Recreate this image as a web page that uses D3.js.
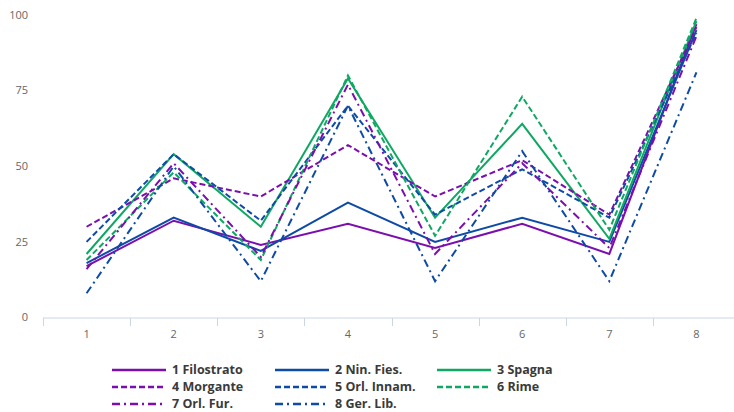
<!DOCTYPE html>
<html><head><meta charset="utf-8">
<script src="https://cdn.jsdelivr.net/npm/d3@7"></script>
<style>
body{margin:0;background:#fff;}
svg{display:block;font-family:"Open Sans","Noto Sans",sans-serif;}
</style></head>
<body><svg id="c" width="734" height="412"></svg>
<script>
const categories = ["1","2","3","4","5","6","7","8"];
const seriesNames = ["1 Filostrato","2 Nin. Fies.","3 Spagna","4 Morgante","5 Orl. Innam.","6 Rime","7 Orl. Fur.","8 Ger. Lib."];
const filostrato = [17, 32, 24, 31, 23, 31, 21, 97];
const ninFies    = [18, 33, 22, 38, 25, 33, 25, 95];
const spagna     = [21, 54, 30, 79, 33, 64, 26, 98];
const morgante   = [30, 46, 40, 57, 40, 52, 34, 96];
const orlInnam   = [25, 54, 32, 70, 34, 49, 33, 94];
const rime       = [19, 48, 19, 80, 27, 73, 29, 99];
const orlFur     = [16, 51, 20, 77, 21, 51, 23, 93];
const gerLib     = [8, 50, 12, 70, 12, 55, 12, 81];
const yTicks = [0, 25, 50, 75, 100];

const purple = "#7b0fae", blue = "#0d4ba6", green = "#0fa863";
const dashed = "6,3", dashdot = "8,4,2,4";
const series = [
  {name: seriesNames[0], values: filostrato, color: purple, dash: null},
  {name: seriesNames[1], values: ninFies, color: blue, dash: null},
  {name: seriesNames[2], values: spagna, color: green, dash: null},
  {name: seriesNames[3], values: morgante, color: purple, dash: dashed},
  {name: seriesNames[4], values: orlInnam, color: blue, dash: dashed},
  {name: seriesNames[5], values: rime, color: green, dash: dashed},
  {name: seriesNames[6], values: orlFur, color: purple, dash: dashdot},
  {name: seriesNames[7], values: gerLib, color: blue, dash: dashdot}
];

const svg = d3.select("#c");
const x = d3.scaleBand().domain(categories).range([43, 740]);
const y = d3.scaleLinear().domain([0, 100]).range([317.5, 15]);

// y labels (no axis line)
svg.append("g").selectAll("text").data(yTicks).join("text")
  .attr("x", 28).attr("y", d => y(d)).attr("dy", "0.35em")
  .attr("text-anchor", "end").attr("font-size", 11).attr("fill", "#666")
  .text(d => d);

// x axis
const xg = svg.append("g").attr("transform", "translate(0,318)");
xg.append("line").attr("x1", 43).attr("x2", 740).attr("y1", 0).attr("y2", 0)
  .attr("stroke", "#c9d6e6").attr("stroke-width", 1);
const bounds = categories.map(c => x(c)).concat([x(categories[categories.length-1]) + x.bandwidth()]);
xg.selectAll("line.t").data(bounds).join("line").attr("class","t")
  .attr("x1", d => Math.round(d)+0.5).attr("x2", d => Math.round(d)+0.5)
  .attr("y1", 0).attr("y2", 8).attr("stroke", "#c9d6e6");
xg.selectAll("text").data(categories).join("text")
  .attr("x", d => x(d) + x.bandwidth()/2).attr("y", 16).attr("dy", "0.35em")
  .attr("text-anchor", "middle").attr("font-size", 11).attr("fill", "#666")
  .text(d => d);

const line = d3.line().x((d, i) => x(categories[i]) + x.bandwidth()/2).y(d => y(d));
svg.append("g").selectAll("path").data(series).join("path")
  .attr("d", d => line(d.values))
  .attr("fill", "none").attr("stroke", d => d.color).attr("stroke-width", 2)
  .attr("stroke-dasharray", d => d.dash)
  .attr("stroke-linejoin", "miter");

// legend
const colX = [112, 275, 437];
const rowY = [370, 387, 404];
const lg = svg.append("g").selectAll("g").data(series).join("g")
  .attr("transform", (d, i) => `translate(${colX[i % 3]},${rowY[Math.floor(i / 3)]})`);
lg.append("line").attr("x1", 0).attr("x2", 54).attr("y1", 0).attr("y2", 0)
  .attr("stroke", d => d.color).attr("stroke-width", 2.5).attr("stroke-dasharray", d => d.dash);
lg.append("text").attr("x", 60).attr("y", 0).attr("dy", "0.35em")
  .attr("font-size", 12.5).attr("font-weight", "bold").attr("fill", "#3a3a3a")
  .text(d => d.name);
</script></body></html>
